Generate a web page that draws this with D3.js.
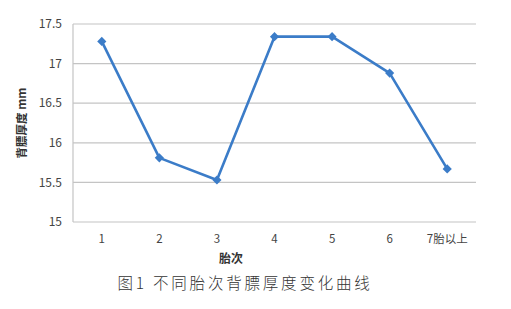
<!DOCTYPE html>
<html><head><meta charset="utf-8">
<script src="https://cdn.jsdelivr.net/npm/d3@7"></script>
<style>body{margin:0;background:#fff}svg{display:block}</style>
</head><body>
<script>
const categories = ["1","2","3","4","5","6","7胎以上"];
const values = [17.28, 15.81, 15.53, 17.34, 17.34, 16.88, 15.67];
const yTicks = [15, 15.5, 16, 16.5, 17, 17.5];
const yTickLabels = ["15","15.5","16","16.5","17","17.5"];
const yTitle = "背膘厚度 mm";
const xTitle = "胎次";
const caption = "图1 不同胎次背膘厚度变化曲线";

(function () {
const W = 511, H = 309;
const svg = d3.select("body").append("svg").attr("width", W).attr("height", H);
const pl = 73, pr = 476, pt = 24, pb = 222;
const x = d3.scaleBand().domain(categories).range([pl, pr]);
const y = d3.scaleLinear().domain([15, 17.5]).range([pb, pt]);
const font = "'Noto Sans CJK SC', 'Noto Sans', sans-serif";

svg.append("g").selectAll("line").data(yTicks).join("line")
  .attr("x1", pl).attr("x2", pr)
  .attr("y1", d => y(d)).attr("y2", d => y(d))
  .attr("stroke", "#c4c4c4").attr("stroke-width", 1.2);
svg.append("line").attr("x1", pl).attr("x2", pl).attr("y1", pt).attr("y2", pb)
  .attr("stroke", "#c4c4c4").attr("stroke-width", 1.2);

svg.append("g").selectAll("text").data(yTicks).join("text")
  .attr("x", pl - 11).attr("y", d => y(d)).attr("dy", "0.35em")
  .attr("text-anchor", "end").attr("font-family", font).attr("font-size", 12)
  .attr("fill", "#444").text((d, i) => yTickLabels[i]);

svg.append("g").selectAll("text").data(categories).join("text")
  .attr("x", d => x(d) + x.bandwidth() / 2).attr("y", 243)
  .attr("text-anchor", "middle").attr("font-family", font).attr("font-size", 11.5)
  .attr("fill", "#444").text(d => d);

svg.append("text").attr("transform", `translate(26,${(pt + pb) / 2}) rotate(-90)`)
  .attr("text-anchor", "middle").attr("font-family", font).attr("font-size", 11.5)
  .attr("font-weight", "bold").attr("fill", "#333").text(yTitle);
svg.append("text").attr("x", 231).attr("y", 263).attr("text-anchor", "middle")
  .attr("font-family", font).attr("font-size", 12).attr("font-weight", "bold")
  .attr("fill", "#333").text(xTitle);

const pts = categories.map((c, i) => [x(c) + x.bandwidth() / 2, y(values[i])]);
svg.append("path").attr("d", d3.line()(pts)).attr("fill", "none")
  .attr("stroke", "#3b7cc8").attr("stroke-width", 2.6).attr("stroke-linejoin", "round");
svg.append("g").selectAll("path").data(pts).join("path")
  .attr("d", d3.symbol(d3.symbolSquare, 42)())
  .attr("transform", d => `translate(${d[0]},${d[1]}) rotate(45)`)
  .attr("fill", "#3b7cc8");

svg.append("text").attr("x", 245).attr("y", 289).attr("text-anchor", "middle")
  .attr("font-family", "'Noto Sans CJK SC', sans-serif").attr("font-size", 15.5)
  .attr("font-weight", 300).attr("letter-spacing", "2.8px")
  .attr("fill", "#333").text(caption);
})();
</script>
</body></html>
